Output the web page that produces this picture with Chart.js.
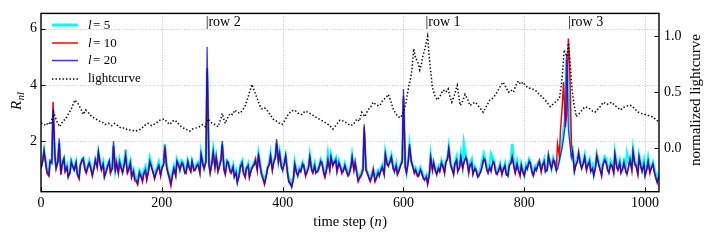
<!DOCTYPE html>
<html><head><meta charset="utf-8">
<script src="https://cdn.jsdelivr.net/npm/chart.js@4"></script>
<style>html,body{margin:0;padding:0;background:#fff}canvas{display:block}</style>
</head><body>
<canvas id="c" width="712" height="242" style="width:712px;height:242px"></canvas>
<script>
// time steps shared by the three R_nl series
const steps = [
0,3,5,8,10,13,15,18,20,23,25,28,30,33,35,38,40,43,45,48,
50,53,55,58,60,63,65,68,70,73,75,78,80,83,85,88,90,93,95,98,
100,103,105,108,110,113,115,118,120,123,125,128,130,133,135,138,140,143,145,148,
150,153,155,158,160,163,165,168,170,173,175,178,180,183,185,188,190,193,195,198,
200,203,205,208,210,213,215,218,220,223,225,228,230,233,235,238,240,243,245,248,
250,253,255,258,260,263,265,268,270,273,275,278,280,283,285,288,290,293,295,298,
300,303,305,308,310,313,315,318,320,323,325,328,330,333,335,338,340,343,345,348,
350,353,355,358,360,363,365,368,370,373,375,378,380,383,385,388,390,393,395,398,
400,403,405,408,410,413,415,418,420,423,425,428,430,433,435,438,440,443,445,448,
450,453,455,458,460,463,465,468,470,473,475,478,480,483,485,488,490,493,495,498,
500,503,505,508,510,513,515,518,520,523,525,528,530,533,535,538,540,543,545,548,
550,553,555,558,560,563,565,568,570,573,575,578,580,583,585,588,590,593,595,598,
600,603,605,608,610,613,615,618,620,623,625,628,630,633,635,638,640,643,645,648,
650,653,655,658,660,663,665,668,670,673,675,678,680,683,685,688,690,693,695,698,
700,703,705,708,710,713,715,718,720,723,725,728,730,733,735,738,740,743,745,748,
750,753,755,758,760,763,765,768,770,773,775,778,780,783,785,788,790,793,795,798,
800,803,805,808,810,813,815,818,820,823,825,828,830,833,835,838,840,843,845,848,
850,853,855,858,860,863,865,868,870,873,875,878,880,883,885,888,890,893,895,898,
900,903,905,908,910,913,915,918,920,923,925,928,930,933,935,938,940,943,945,948,
950,953,955,958,960,963,965,968,970,973,975,978,980,983,985,988,990,993,995,998,
1000,1003,1005,1008,1010,1013,1015,1018,1020,1023];

// R_nl for l = 5
const rL5 = [
1.05,1.35,1.65,1.25,0.95,0.85,1.3,1.25,3.0,1.5,1.1,1.3,1.95,0.9,1.25,1.4,1.0,1.15,0.8,0.95,
1.3,1.1,1.0,1.25,0.9,0.75,1.15,1.35,1.4,1.05,0.95,1.15,1.3,1.05,0.85,1.1,1.35,1.15,1.6,1.25,
1.05,1.25,0.8,1.0,1.15,1.3,0.95,1.05,1.85,1.0,1.25,0.95,1.35,1.1,0.95,1.3,1.7,1.0,1.1,1.3,
0.85,1.0,0.8,0.7,0.6,0.95,0.85,0.7,0.95,1.1,0.8,1.05,1.4,1.15,0.95,0.8,0.95,1.1,1.25,0.9,
1.05,1.25,1.9,1.15,0.95,0.75,0.6,0.9,1.1,0.85,1.35,1.2,1.0,1.3,1.25,0.95,0.9,1.3,1.15,1.0,
1.3,1.05,1.0,1.2,1.25,0.95,1.6,1.25,1.05,1.3,4.5,1.2,0.95,1.3,1.7,1.15,1.45,1.0,1.15,1.4,
1.9,1.05,0.9,1.3,1.25,1.0,0.95,1.15,0.8,0.95,0.6,0.85,1.15,1.3,0.95,0.8,1.05,1.2,0.8,1.05,
1.1,1.25,1.35,1.05,1.55,1.15,0.9,0.7,0.6,0.85,1.05,1.25,1.55,1.05,1.25,1.5,1.95,1.3,1.6,1.15,
1.0,1.3,1.5,0.95,0.7,0.6,0.45,0.75,1.25,0.95,0.8,1.05,1.0,1.25,1.15,0.85,0.9,1.15,1.5,1.05,
0.95,1.2,0.9,1.0,1.1,1.35,1.25,0.95,0.85,1.15,1.55,1.1,1.5,1.2,1.25,1.4,1.0,1.3,1.15,0.95,
0.95,1.2,1.05,0.85,0.9,1.15,1.5,1.05,1.25,0.9,0.7,0.8,0.85,1.05,2.3,1.05,0.9,0.75,0.7,0.85,
1.0,0.7,0.8,0.95,0.8,1.05,1.15,0.9,1.6,1.25,1.15,1.35,1.5,1.1,0.95,1.2,0.9,1.05,1.15,1.35,
3.5,1.15,0.9,1.35,1.85,1.3,1.15,0.95,1.05,0.85,0.8,1.05,0.95,0.75,0.7,0.8,0.6,0.9,1.5,1.05,
1.25,1.0,0.85,1.1,1.0,1.3,1.15,0.95,1.25,1.45,1.8,1.25,1.05,0.9,1.25,1.45,1.0,1.2,1.55,1.15,
1.9,1.5,1.35,1.0,1.2,1.35,0.9,1.1,1.0,0.8,0.85,1.05,1.3,1.55,1.4,1.1,0.95,1.25,1.55,1.4,
1.3,0.95,0.9,1.05,1.2,0.9,1.0,1.2,0.9,0.8,1.2,1.35,1.9,1.2,1.0,1.3,1.05,0.9,1.2,0.95,
0.8,1.15,1.05,1.35,1.25,0.95,0.85,1.1,1.0,1.25,1.3,1.0,1.15,1.35,0.95,1.05,1.5,1.25,1.05,1.4,
1.25,1.0,1.1,1.35,1.6,2.0,2.4,2.9,4.9,3.6,3.0,1.6,1.7,1.0,1.2,1.4,1.6,1.25,1.1,1.3,
1.5,1.1,1.2,1.35,1.0,1.15,0.85,1.2,1.55,1.3,1.1,0.9,1.2,1.45,1.4,1.05,0.95,1.3,1.2,1.0,
1.6,1.2,1.05,1.3,1.0,1.15,1.3,1.05,1.55,1.25,1.4,1.1,1.7,1.25,1.2,0.95,1.5,1.2,1.0,1.3,
0.85,1.1,1.4,1.0,1.1,1.25,1.05,0.8,0.65,0.9];

// R_nl for l = 10
const rL10 = [
1.05,1.3,1.6,1.15,0.85,0.75,1.25,1.3,3.4,1.45,1.0,1.25,1.9,0.8,1.15,1.35,0.9,1.05,0.75,0.85,
1.2,1.1,1.0,1.2,0.8,0.65,1.15,1.3,1.3,0.95,0.85,1.1,1.2,0.95,0.75,1.1,1.35,1.05,1.55,1.15,
0.95,1.15,0.75,0.9,1.05,1.25,0.85,1.05,1.8,0.9,1.25,0.85,1.2,1.0,0.9,1.15,1.5,0.85,0.95,1.2,
0.7,0.9,0.6,0.55,0.45,0.85,0.8,0.55,0.8,0.95,0.6,0.9,1.25,1.05,0.95,0.65,0.8,1.0,1.1,0.75,
1.05,1.15,1.85,1.05,0.85,0.6,0.4,0.8,1.0,0.75,1.25,1.1,1.0,1.2,1.15,0.85,0.9,1.25,1.05,0.9,
1.25,0.95,1.0,1.1,1.15,0.85,1.5,1.15,1.05,1.25,4.6,1.15,0.85,1.2,1.55,1.05,1.45,0.9,1.05,1.3,
1.85,0.95,0.8,1.25,1.25,0.9,0.85,1.05,0.75,0.85,0.55,0.75,1.05,1.2,0.85,0.7,1.05,1.1,0.7,0.95,
1.1,1.15,1.35,0.95,1.55,1.05,0.8,0.6,0.45,0.75,1.05,1.15,1.45,0.95,1.25,1.4,1.9,1.25,1.5,1.05,
1.0,1.2,1.45,0.85,0.55,0.45,0.4,0.65,1.15,0.85,0.8,0.95,0.9,1.15,1.15,0.75,0.9,1.05,1.4,0.95,
0.85,1.1,0.9,0.9,1.0,1.25,1.25,0.85,0.7,1.0,1.35,0.95,1.4,1.1,1.25,1.3,0.9,1.2,1.15,0.85,
0.95,1.1,0.95,0.75,0.8,1.05,1.4,0.95,1.25,0.8,0.55,0.7,0.75,0.95,2.5,0.95,0.9,0.65,0.55,0.75,
1.0,0.55,0.65,0.85,0.8,0.95,1.05,0.8,1.5,1.15,1.15,1.25,1.4,1.0,0.95,1.1,0.8,0.95,1.15,1.25,
3.6,1.05,0.9,1.25,1.8,1.25,1.15,0.85,0.95,0.75,0.8,0.95,0.85,0.65,0.65,0.7,0.45,0.8,1.4,0.95,
1.25,0.9,0.85,1.0,0.9,1.2,1.15,0.85,1.25,1.35,1.7,1.15,1.05,0.8,1.15,1.3,0.95,1.05,1.4,1.0,
1.25,1.4,1.35,0.85,1.15,1.2,0.85,1.0,1.0,0.75,0.8,0.9,1.05,1.35,1.35,0.95,0.9,1.05,0.95,1.25,
1.25,0.85,0.85,0.95,1.15,0.8,1.0,1.1,0.8,0.8,1.15,1.2,1.45,1.05,0.85,1.15,1.0,0.75,1.15,0.85,
0.8,1.05,1.05,1.25,1.25,0.85,0.75,1.0,1.0,1.15,1.3,0.9,1.15,1.25,0.95,0.95,1.5,1.15,1.05,1.3,
1.3,1.0,1.9,1.5,2.4,3.3,4.1,2.5,2.9,5.65,4.8,1.9,1.6,0.95,1.15,1.25,1.6,1.15,1.05,1.2,
1.4,0.95,1.15,1.25,0.95,1.0,0.8,1.05,1.5,1.15,1.05,0.75,1.15,1.3,1.25,0.95,0.9,1.15,1.15,0.85,
1.5,1.05,1.0,1.2,0.85,1.0,1.25,0.9,0.85,1.1,1.35,0.95,1.6,1.15,1.15,0.8,1.4,1.05,0.95,1.15,
0.8,1.0,1.25,0.85,1.05,1.15,0.9,0.65,0.55,0.75];

// R_nl for l = 20
const rL20 = [
1.0,1.35,1.7,1.2,0.9,0.8,1.3,1.2,3.15,1.5,1.05,1.3,2.1,0.85,1.2,1.4,0.95,1.1,0.7,0.9,
1.3,1.05,0.95,1.25,0.85,0.7,1.1,1.35,1.4,1.0,0.9,1.15,1.25,1.0,0.8,1.05,1.3,1.1,1.65,1.2,
1.0,1.2,0.7,0.95,1.1,1.3,0.9,1.0,2.0,0.95,1.2,0.9,1.3,1.05,0.85,1.2,1.45,0.9,1.0,1.25,
0.75,0.95,0.7,0.6,0.5,0.9,0.75,0.6,0.85,1.0,0.65,0.95,1.3,1.1,0.9,0.7,0.85,1.05,1.15,0.8,
1.0,1.2,1.75,1.1,0.9,0.7,0.5,0.85,1.05,0.8,1.3,1.15,0.95,1.25,1.2,0.9,0.85,1.3,1.1,0.95,
1.3,1.0,0.96,1.15,1.2,0.9,1.55,1.2,1.0,1.3,5.35,1.2,0.9,1.25,1.65,1.1,1.4,0.95,1.1,1.35,
2.0,1.0,0.85,1.3,1.2,0.95,0.9,1.1,0.7,0.9,0.5,0.8,1.1,1.25,0.9,0.75,1.0,1.15,0.75,1.0,
1.05,1.2,1.3,1.0,1.5,1.1,0.85,0.65,0.5,0.8,1.0,1.2,1.5,1.0,1.2,1.45,2.07,1.3,1.6,1.1,
0.95,1.25,1.5,0.9,0.6,0.5,0.35,0.7,1.2,0.9,0.75,1.0,0.95,1.2,1.1,0.8,0.85,1.1,1.45,1.0,
0.9,1.15,0.85,0.95,1.05,1.3,1.2,0.9,0.75,1.05,1.3,1.0,1.45,1.15,1.2,1.35,0.95,1.25,1.1,0.9,
0.9,1.15,1.0,0.8,0.85,1.1,1.45,1.0,1.2,0.85,0.6,0.75,0.8,1.0,2.6,1.0,0.85,0.7,0.6,0.8,
0.95,0.6,0.7,0.9,0.75,1.0,1.1,0.85,1.55,1.2,1.1,1.3,1.45,1.05,0.9,1.15,0.85,1.0,1.1,1.3,
3.85,1.1,0.85,1.3,1.9,1.3,1.1,0.9,1.0,0.8,0.75,1.0,0.9,0.7,0.6,0.75,0.5,0.85,1.45,1.0,
1.2,0.95,0.8,1.05,0.95,1.25,1.1,0.9,1.2,1.4,1.75,1.2,1.0,0.85,1.2,1.35,0.9,1.1,1.45,1.05,
1.2,1.45,1.3,0.9,1.1,1.25,0.8,1.05,0.95,0.7,0.75,0.95,1.1,1.4,1.3,1.0,0.85,1.1,0.9,1.3,
1.2,0.9,0.8,1.0,1.1,0.85,0.95,1.15,0.85,0.75,1.1,1.25,1.4,1.1,0.9,1.2,0.95,0.8,1.1,0.9,
0.75,1.1,1.0,1.3,1.2,0.9,0.8,1.05,0.95,1.2,1.25,0.95,1.1,1.3,0.9,1.0,1.45,1.2,1.0,1.35,
1.2,0.95,1.0,1.3,1.5,1.8,2.1,2.6,5.1,2.4,2.0,1.4,1.6,0.9,1.1,1.3,1.55,1.2,1.0,1.25,
1.45,1.0,1.1,1.3,0.9,1.05,0.75,1.1,1.45,1.2,1.0,0.8,1.1,1.35,1.3,1.0,0.85,1.2,1.1,0.9,
1.55,1.1,0.95,1.25,0.9,1.05,1.2,0.95,0.8,1.15,1.3,1.0,1.65,1.2,1.1,0.85,1.45,1.1,0.9,1.2,
0.75,1.05,1.3,0.9,1.0,1.2,0.95,0.7,0.5,0.8];

// normalized lightcurve (right axis)
const lcSteps = [0,3,8,12,16,21,26,31,36,41,46,51,56,61,66,70,74,78,84,91,97,102,106,112,117,122,127,132,138,144,150,156,161,166,171,177,183,190,197,204,209,213,218,222,227,232,239,246,251,257,262,268,272,276,280,283,288,293,297,300,303,305,309,313,317,321,325,329,334,338,343,349,354,358,362,366,370,374,379,384,390,395,399,404,409,414,420,426,432,437,442,448,454,460,467,473,478,483,489,495,501,507,512,517,523,527,531,536,541,546,550,556,561,566,571,575,579,583,587,591,595,600,604,608,612,614,617,620,622,625,627,630,632,636,640,642,644,648,652,656,661,666,670,674,677,680,684,689,692,694,698,702,706,710,715,719,725,732,737,743,749,755,760,765,770,774,778,782,786,790,794,798,802,806,812,818,823,829,836,843,847,851,855,858,861,863,865,866,868,871,873,876,879,882,886,889,893,897,901,905,909,913,917,924,931,937,941,945,950,955,959,963,967,972,978,983,989,994,1000,1006,1012,1017,1021];
const lcValues = [0.22,0.22,0.20,0.23,0.21,0.32,0.24,0.19,0.24,0.26,0.31,0.36,0.43,0.40,0.35,0.30,0.34,0.32,0.28,0.26,0.24,0.23,0.21,0.22,0.20,0.22,0.20,0.18,0.18,0.16,0.16,0.15,0.16,0.17,0.20,0.22,0.20,0.22,0.25,0.26,0.23,0.21,0.24,0.25,0.22,0.19,0.17,0.15,0.17,0.18,0.19,0.21,0.19,0.26,0.24,0.22,0.21,0.19,0.25,0.31,0.25,0.22,0.27,0.31,0.30,0.34,0.32,0.31,0.34,0.38,0.46,0.57,0.50,0.44,0.38,0.35,0.36,0.34,0.30,0.26,0.24,0.22,0.21,0.25,0.30,0.33,0.34,0.31,0.30,0.33,0.32,0.30,0.28,0.26,0.24,0.22,0.20,0.17,0.21,0.25,0.24,0.22,0.20,0.21,0.26,0.24,0.32,0.28,0.34,0.37,0.41,0.38,0.38,0.43,0.45,0.48,0.42,0.35,0.31,0.28,0.27,0.32,0.40,0.53,0.63,0.70,0.89,0.80,0.79,0.75,0.70,0.76,0.82,0.90,1.00,0.86,0.74,0.54,0.47,0.43,0.47,0.52,0.50,0.53,0.46,0.41,0.47,0.56,0.45,0.38,0.42,0.48,0.44,0.38,0.40,0.41,0.37,0.32,0.37,0.43,0.45,0.50,0.55,0.59,0.54,0.50,0.52,0.50,0.56,0.60,0.57,0.59,0.56,0.54,0.53,0.52,0.49,0.46,0.42,0.37,0.39,0.41,0.43,0.44,0.55,0.65,0.80,0.88,0.85,0.82,0.94,0.75,0.53,0.40,0.28,0.30,0.32,0.35,0.37,0.36,0.35,0.33,0.32,0.36,0.41,0.39,0.40,0.41,0.38,0.36,0.34,0.36,0.37,0.38,0.38,0.35,0.32,0.31,0.30,0.29,0.28,0.26,0.24];

const xTicks = [0,200,400,600,800,1000];
const leftTicks = [2,4,6];
const rightTicks = [0.0,0.5,1.0];
const rowSteps = [275,639,875];
const rowLabels = ['|row 2','|row 1','|row 3'];
const seriesL = ['5','10','20'];

const SERIF = "'Liberation Serif','DejaVu Serif',serif";
const C_CYAN = '#00ffff', C_RED = '#ff0000', C_BLUE = 'rgba(0,0,255,0.78)';

function pts(xs, ys){ const n=Math.min(xs.length, ys.length); const out=[]; for(let i=0;i<n;i++) out.push({x:xs[i], y:ys[i]}); return out; }

const deco = {
  id:'deco',
  beforeDatasetsDraw(chart){
    const {ctx, chartArea:a, scales} = chart;
    ctx.save();
    ctx.strokeStyle = '#b5b5b5'; ctx.lineWidth = 0.8; ctx.setLineDash([1,1.6]);
    xTicks.forEach(v=>{ if(v===0) return; const x=Math.round(scales.x.getPixelForValue(v))+0.5; ctx.beginPath(); ctx.moveTo(x,a.top); ctx.lineTo(x,a.bottom); ctx.stroke(); });
    leftTicks.forEach(v=>{ const y=Math.round(scales.y.getPixelForValue(v))+0.5; ctx.beginPath(); ctx.moveTo(a.left,y); ctx.lineTo(a.right,y); ctx.stroke(); });
    ctx.restore();
  },
  afterDatasetsDraw(chart){
    const {ctx, chartArea:a, scales} = chart;
    ctx.save();
    ctx.strokeStyle='#000'; ctx.lineWidth=1; ctx.setLineDash([]);
    xTicks.forEach(v=>{ const x=Math.round(scales.x.getPixelForValue(v))+0.5; ctx.beginPath(); ctx.moveTo(x,a.bottom); ctx.lineTo(x,a.bottom-4.5); ctx.stroke(); });
    leftTicks.forEach(v=>{ const y=Math.round(scales.y.getPixelForValue(v))+0.5; ctx.beginPath(); ctx.moveTo(a.left,y); ctx.lineTo(a.left+4.5,y); ctx.stroke(); });
    rightTicks.forEach(v=>{ const y=Math.round(scales.y1.getPixelForValue(v))+0.5; ctx.beginPath(); ctx.moveTo(a.right,y); ctx.lineTo(a.right-4.5,y); ctx.stroke(); });
    ctx.lineWidth=1.4;
    ctx.strokeRect(a.left, a.top, a.right-a.left, a.bottom-a.top);
    // legend
    const lx0=52, lx1=78, tx=88;
    const rows=[25,43,60.5,79];
    const cols=[C_CYAN,C_RED,C_BLUE];
    const widths=[3,1.5,1.5];
    ctx.textBaseline='middle';
    for(let i=0;i<3;i++){
      ctx.strokeStyle=cols[i]; ctx.lineWidth=widths[i]; ctx.setLineDash([]);
      ctx.beginPath(); ctx.moveTo(lx0,rows[i]); ctx.lineTo(lx1,rows[i]); ctx.stroke();
      ctx.fillStyle='#000';
      ctx.font='italic 13px '+SERIF; ctx.textAlign='left';
      ctx.fillText('l', tx, rows[i]+0.5);
      const w=ctx.measureText('l').width;
      ctx.font='13px '+SERIF;
      ctx.fillText('= '+seriesL[i], tx+w+1.5, rows[i]+0.5);
    }
    ctx.strokeStyle='#000'; ctx.lineWidth=1.5; ctx.setLineDash([1.4,2.1]);
    ctx.beginPath(); ctx.moveTo(lx0,rows[3]); ctx.lineTo(lx1,rows[3]); ctx.stroke();
    ctx.setLineDash([]);
    ctx.font='13px '+SERIF; ctx.fillText('lightcurve', tx, rows[3]);
    ctx.font='14px '+SERIF; ctx.textBaseline='alphabetic'; ctx.textAlign='left';
    rowSteps.forEach((n,i)=>{ const x=scales.x.getPixelForValue(n)-1.5; ctx.fillText(rowLabels[i], x, 25.5); });
    ctx.restore();
  },
  afterDraw(chart){
    const {ctx, chartArea:a} = chart;
    ctx.save(); ctx.fillStyle='#000';
    ctx.textBaseline='alphabetic'; ctx.textAlign='left';
    const f='14.5px '+SERIF, fi='italic 14.5px '+SERIF;
    ctx.font=f; const w1=ctx.measureText('time step (').width; const w3=ctx.measureText(')').width;
    ctx.font=fi; const w2=ctx.measureText('n').width;
    let x=(a.left+a.right)/2-(w1+w2+w3)/2;
    ctx.font=f; ctx.fillText('time step (',x,226);
    ctx.font=fi; ctx.fillText('n',x+w1,226);
    ctx.font=f; ctx.fillText(')',x+w1+w2+0.5,226);
    ctx.save(); ctx.translate(21,110); ctx.rotate(-Math.PI/2);
    ctx.font='italic 15px '+SERIF; ctx.fillText('R',0,0);
    const wr=ctx.measureText('R').width;
    ctx.font='italic 10.5px '+SERIF; ctx.fillText('nl',wr+0.5,2.5);
    ctx.restore();
    ctx.save(); ctx.translate(696,100); ctx.rotate(-Math.PI/2);
    ctx.textAlign='center'; ctx.textBaseline='middle';
    ctx.font='15px '+SERIF; ctx.fillText('normalized lightcurve',0,0);
    ctx.restore();
    ctx.restore();
  }
};

const tickFont = {family:SERIF, size:14};
new Chart(document.getElementById('c'), {
  type:'line',
  data:{ datasets:[
    {label:'lightcurve', data:pts(lcSteps,lcValues), yAxisID:'y1', borderColor:'#000', borderWidth:1.5, borderDash:[1.4,2.1], pointRadius:0, tension:0, order:1},
    {label:'l = '+seriesL[2], data:pts(steps,rL20), yAxisID:'y', borderColor:C_BLUE, borderWidth:1.3, pointRadius:0, tension:0, order:2},
    {label:'l = '+seriesL[1], data:pts(steps,rL10), yAxisID:'y', borderColor:C_RED, borderWidth:1.5, pointRadius:0, tension:0, order:3},
    {label:'l = '+seriesL[0], data:pts(steps,rL5), yAxisID:'y', borderColor:C_CYAN, borderWidth:2.6, pointRadius:0, tension:0, order:4}
  ]},
  options:{
    responsive:false, animation:false, devicePixelRatio:1,
    layout:{padding:{top:9.5,left:0,right:0,bottom:0}},
    plugins:{legend:{display:false}, tooltip:{enabled:false}},
    scales:{
      x:{type:'linear', min:0, max:1023,
        afterBuildTicks:s=>{s.ticks=xTicks.map(v=>({value:v}));},
        afterFit:s=>{s.height=50.3;},
        grid:{display:false, drawTicks:false}, border:{display:false},
        ticks:{font:tickFont, color:'#000', padding:3, maxRotation:0, autoSkip:false, callback:v=>String(v)}},
      y:{type:'linear', position:'left', min:0.202, max:6.54,
        afterBuildTicks:s=>{s.ticks=leftTicks.map(v=>({value:v}));},
        afterFit:s=>{s.width=41;},
        grid:{display:false, drawTicks:false}, border:{display:false},
        ticks:{font:tickFont, color:'#000', padding:4, callback:v=>String(v)}},
      y1:{type:'linear', position:'right', min:-0.392, max:1.206,
        afterBuildTicks:s=>{s.ticks=rightTicks.map(v=>({value:v}));},
        afterFit:s=>{s.width=53;},
        grid:{display:false, drawTicks:false}, border:{display:false},
        ticks:{font:tickFont, color:'#000', padding:5, callback:v=>Number(v).toFixed(1)}}
    }
  },
  plugins:[deco]
});
</script>
</body></html>
